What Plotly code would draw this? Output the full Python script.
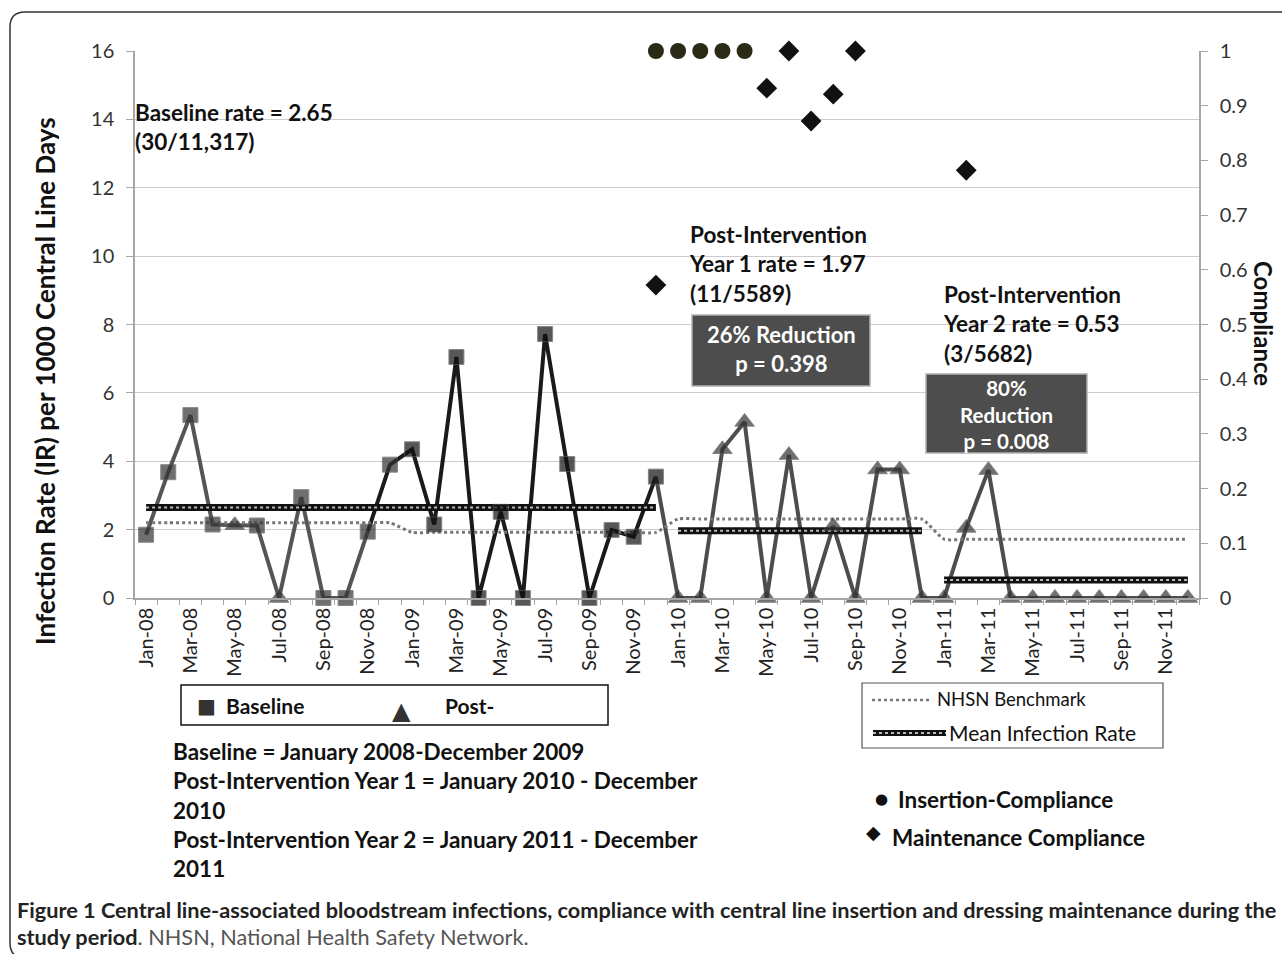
import plotly.graph_objects as go

# ---------------- data ----------------
month_names = ["Jan", "Feb", "Mar", "Apr", "May", "Jun", "Jul", "Aug", "Sep", "Oct", "Nov", "Dec"]
years = ["08", "09", "10", "11"]
months = [f"{m}-{y}" for y in years for m in month_names]

# infection rate per 1000 central line days (monthly)
rates = [1.85, 3.68, 5.35, 2.15, 2.13, 2.12, 0.0, 2.95, 0.0, 0.0, 1.94, 3.90,
         4.35, 2.15, 7.05, 0.0, 2.52, 0.0, 7.72, 3.92, 0.0, 1.99, 1.79, 3.55,
         0.0, 0.0, 4.35, 5.15, 0.0, 4.18, 0.0, 2.10, 0.0, 3.76, 3.76, 0.0,
         0.0, 2.05, 3.74, 0.0, 0.0, 0.0, 0.0, 0.0, 0.0, 0.0, 0.0, 0.0]
# marker shapes as printed in the figure
symbols = (["square"] * 4 + ["triangle-up", "square", "triangle-up"] + ["square"] * 17
           + ["triangle-up"] * 24)

# NHSN benchmark per calendar year
nhsn_years = ["08", "09", "10", "11"]
nhsn_values = [2.20, 1.92, 2.31, 1.72]

# mean infection rate per period
mean_periods = [("Jan-08", "Dec-09"), ("Jan-10", "Dec-10"), ("Jan-11", "Dec-11")]
mean_values = [2.65, 1.97, 0.53]

# compliance (right axis)
insertion_months = ["Dec-09", "Jan-10", "Feb-10", "Mar-10", "Apr-10"]
insertion_values = [1.0, 1.0, 1.0, 1.0, 1.0]
maint_months = ["Dec-09", "May-10", "Jun-10", "Jul-10", "Aug-10", "Sep-10", "Feb-11"]
maint_values = [0.572, 0.932, 1.0, 0.872, 0.921, 1.0, 0.782]

# ---------------- layout helpers ----------------
W, H = 1282, 954
L, R, T, B = 135, 1199, 51, 598


def PX(x):
    return (x - L) / (R - L)


def PY(y):
    return (B - y) / (B - T)


FONT = "Lato, Calibri, 'Open Sans', sans-serif"

fig = go.Figure()

# segments of the rate line
seg_2008 = slice(0, 11)    # Jan-08 .. Nov-08 (grey)
seg_2009 = slice(10, 24)   # Nov-08 .. Dec-09 (black)
seg_post = slice(23, 48)   # Dec-09 .. Dec-11 (grey)

fig.add_trace(go.Scatter(x=months[seg_2008], y=rates[seg_2008], mode="lines",
                         line=dict(color="#555555", width=4), showlegend=False, hoverinfo="skip"))
fig.add_trace(go.Scatter(x=months[seg_2009], y=rates[seg_2009], mode="lines",
                         line=dict(color="#1a1a1a", width=4), showlegend=False, hoverinfo="skip"))
fig.add_trace(go.Scatter(x=months[seg_post], y=rates[seg_post], mode="lines",
                         line=dict(color="#4d4d4d", width=4), showlegend=False, hoverinfo="skip"))

# NHSN benchmark (smoothed dotted line)
nhsn = [nhsn_values[nhsn_years.index(m.split("-")[1])] for m in months]
fig.add_trace(go.Scatter(x=months, y=nhsn, mode="lines",
                         line=dict(color="#777777", width=3, dash="dot", shape="spline", smoothing=0.6),
                         showlegend=False, hoverinfo="skip"))

# mean infection rate (thick hatched line)
for (a, b), v in zip(mean_periods, mean_values):
    xs = months[months.index(a):months.index(b) + 1]
    fig.add_trace(go.Scatter(x=xs, y=[v] * len(xs), mode="lines",
                             line=dict(color="#111111", width=7), showlegend=False, hoverinfo="skip"))
    fig.add_trace(go.Scatter(x=xs, y=[v] * len(xs), mode="lines",
                             line=dict(color="#bbbbbb", width=2, dash="dot"), showlegend=False, hoverinfo="skip"))


# markers
def mcolor(i):
    return "#111111" if 12 <= i < 24 else "#333333"


for seg in (seg_2008, slice(11, 24), slice(24, 48)):
    idx = list(range(48))[seg]
    fig.add_trace(go.Scatter(
        x=[months[i] for i in idx], y=[rates[i] for i in idx], mode="markers", cliponaxis=False,
        marker=dict(symbol=[symbols[i] for i in idx],
                    size=[15 if symbols[i] == "square" else 17 for i in idx],
                    color=[mcolor(i) for i in idx],
                    line=dict(color="#555555", width=1)),
        showlegend=False, hoverinfo="skip"))

# compliance markers (right axis)
fig.add_trace(go.Scatter(x=insertion_months, y=insertion_values, mode="markers", yaxis="y2", cliponaxis=False,
                         marker=dict(symbol="circle", size=16, color="#2a2a16"),
                         showlegend=False, hoverinfo="skip"))
fig.add_trace(go.Scatter(x=maint_months, y=maint_values, mode="markers", yaxis="y2", cliponaxis=False,
                         marker=dict(symbol="diamond", size=16, color="#111111"),
                         showlegend=False, hoverinfo="skip"))

# invisible trace carrying the boundary-tick axis
fig.add_trace(go.Scatter(x=[0], y=[0], xaxis="x2", mode="markers",
                         marker=dict(opacity=0), showlegend=False, hoverinfo="skip"))

AX = "#a6a6a6"
fig.update_layout(
    width=W, height=H,
    margin=dict(l=L, r=W - R, t=T, b=H - B, autoexpand=False),
    paper_bgcolor="white", plot_bgcolor="white",
    font=dict(family=FONT, color="#222222"),
    xaxis=dict(type="category", categoryorder="array", categoryarray=months,
               range=[-0.5, 47.5], tickvals=months[::2], ticktext=months[::2],
               tickangle=-90, ticks="", showgrid=False, showline=True, linecolor=AX, linewidth=1.5,
               tickfont=dict(size=20, color="#222222"), ticklabelstandoff=0, zeroline=False),
    xaxis2=dict(overlaying="x", anchor="y", side="bottom", range=[-0.5, 47.5],
                tickvals=[i - 0.5 for i in range(49)], ticks="outside", ticklen=6,
                tickcolor=AX, showticklabels=False, showgrid=False, showline=False, zeroline=False),
    yaxis=dict(range=[0, 16], dtick=2, showgrid=True, gridcolor="#cccccc", gridwidth=1,
               showline=True, linecolor=AX, linewidth=1.5, ticks="outside", ticklen=7, tickcolor=AX,
               tickfont=dict(size=20, color="#333333"), ticklabelstandoff=8, zeroline=False),
    yaxis2=dict(range=[0, 1], dtick=0.1, overlaying="y", side="right", showgrid=False,
                showline=True, linecolor=AX, linewidth=1.5, ticks="outside", ticklen=7, tickcolor=AX,
                tickfont=dict(size=20, color="#333333"), ticklabelstandoff=8, zeroline=False),
)

ann = []
shapes = []


def text(x, y, s, size=22, bold=True, color="#111111", xanchor="left", align="left", angle=0, family=FONT):
    ann.append(dict(xref="paper", yref="paper", x=PX(x), y=PY(y), text=(f"<b>{s}</b>" if bold else s),
                    showarrow=False, xanchor=xanchor, yanchor="middle", align=align, textangle=angle,
                    font=dict(size=size, color=color, family=family)))


def rect(x0, y0, x1, y1, line="#000", fill="rgba(0,0,0,0)", width=1):
    shapes.append(dict(type="rect", xref="paper", yref="paper", x0=PX(x0), x1=PX(x1), y0=PY(y0), y1=PY(y1),
                       line=dict(color=line, width=width), fillcolor=fill, layer="above"))


def hline(x0, x1, y, color, width, dash="solid"):
    shapes.append(dict(type="line", xref="paper", yref="paper", x0=PX(x0), x1=PX(x1), y0=PY(y), y1=PY(y),
                       line=dict(color=color, width=width, dash=dash), layer="above"))


# axis titles
text(45, 381, "Infection Rate (IR) per 1000 Central Line Days", size=26, xanchor="center", angle=-90)
text(1264, 323, "Compliance", size=24, xanchor="center", angle=90)

# in-plot annotations
text(133, 127, "Baseline rate = 2.65<br>(30/11,317)", size=22.5)
text(687, 264, "Post-Intervention<br>Year 1 rate = 1.97<br>(11/5589)", size=22.5)
text(941, 324, "Post-Intervention<br>Year 2 rate = 0.53<br>(3/5682)", size=22.5)

rect(692, 315, 870, 386, line="#b0b0b0", fill="#4d4d4d", width=1.5)
text(781, 349, "26% Reduction<br>p = 0.398", size=22, color="white", xanchor="center", align="center")
rect(926, 374, 1087, 453, line="#b0b0b0", fill="#4d4d4d", width=1.5)
text(1006, 414, "80%<br>Reduction<br>p = 0.008", size=20.5, color="white", xanchor="center", align="center")

# legend box 1
rect(181, 685, 608, 725, line="#111111", width=1.5)
text(195, 706, "■", size=20, bold=False, color="#333333", family="DejaVu Sans")
text(224, 705, "Baseline", size=21)
text(390, 711, "▲", size=24, bold=False, color="#333333", family="DejaVu Sans")
text(443, 705, "Post-", size=21)

# legend box 2
rect(862, 683, 1163, 748, line="#555555", width=1.2)
hline(872, 929, 700, "#777777", 2.5, "dot")
text(935, 699, "NHSN Benchmark", size=18.5, bold=False)
hline(873, 946, 733, "#111111", 6)
hline(873, 946, 733, "#bbbbbb", 2, "dot")
text(947, 732, "Mean Infection Rate", size=21, bold=False)

# period definitions
text(171, 810, "Baseline = January 2008-December 2009<br>Post-Intervention Year 1 = January 2010 - December<br>"
     "2010<br>Post-Intervention Year 2 = January 2011 - December<br>2011", size=22.5)

# compliance legend
text(873, 799, "●", size=15, bold=False, color="#111111", family="DejaVu Sans")
text(896, 799, "Insertion-Compliance", size=22.5)
text(864, 832, "◆", size=19, bold=False, color="#111111", family="DejaVu Sans")
text(890, 837, "Maintenance Compliance", size=22.5)

# caption
text(15, 910, "Figure 1 Central line-associated bloodstream infections, compliance with central line insertion "
     "and dressing maintenance during the", size=21.7, color="#222222")
text(15, 937, "<b>study period</b><span style='color:#555555'>. NHSN, National Health Safety Network.</span>",
     size=21.7, bold=False, color="#222222")

# outer rounded frame
x0, y0, x1, y1, r = PX(10), PY(12), PX(1300), PY(958), 15
rx, ry = r / (R - L), r / (B - T)
path = (f"M {x1},{y0} L {x0 + rx},{y0} Q {x0},{y0} {x0},{y0 - ry} "
        f"L {x0},{y1 + ry} Q {x0},{y1} {x0 + rx},{y1} L {x1},{y1}")
shapes.append(dict(type="path", xref="paper", yref="paper", path=path,
                   line=dict(color="#333333", width=1.5), layer="above"))

fig.update_layout(annotations=ann, shapes=shapes)
fig.write_html("out.html", config={"displayModeBar": False},
               post_script="document.body.style.margin='0';document.body.style.overflow='hidden';")
